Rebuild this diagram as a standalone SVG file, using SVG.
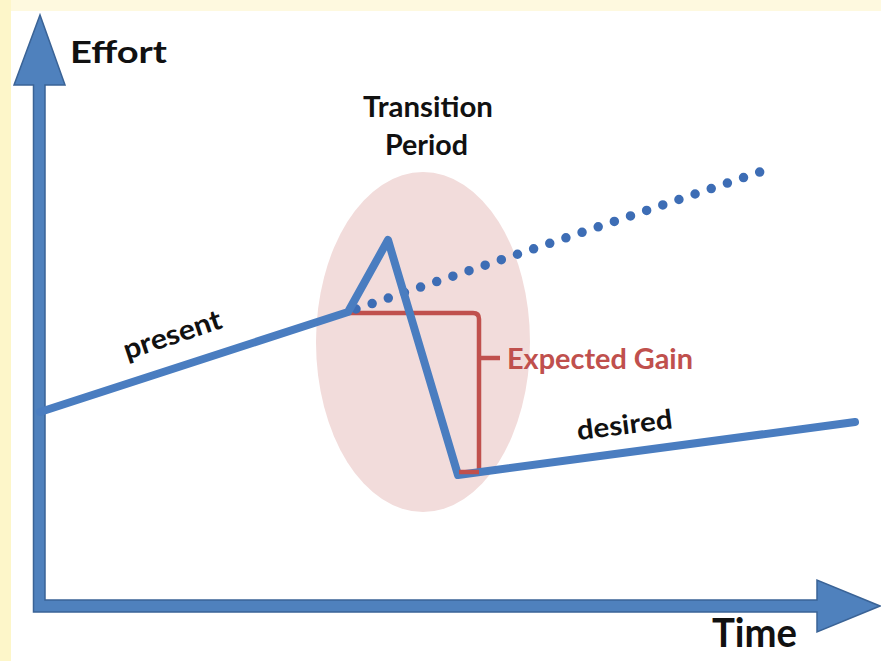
<svg xmlns="http://www.w3.org/2000/svg" width="881" height="661" viewBox="0 0 881 661">
  <style>
    .lbl { font-family: Lato, "Open Sans", "Liberation Sans", sans-serif; font-weight: bold; fill: #111; }
    .red { fill: #C0504D; }
    .blue { fill: none; stroke: #4A7DC0; stroke-width: 8; stroke-linejoin: round; stroke-linecap: round; }
    .redline { fill: none; stroke: #C0504D; stroke-width: 4.5; stroke-linejoin: round; }
  </style>
  <rect x="0" y="0" width="881" height="661" fill="#FFFFFF"/>
  <rect x="0" y="0" width="881" height="11" fill="#FEF9DF"/>
  <rect x="0" y="0" width="11" height="661" fill="#FDF6C9"/>

  <g id="transition-ellipse">
    <ellipse cx="423" cy="342" rx="107" ry="170" fill="#F2DCDB"/>
  </g>

  <g id="axes">
    <path d="M33.5,85 L14,85 L40,15 L65,85 L45,85 L45,600 L817,600 L817,580 L880,606 L817,632 L817,612 L33.5,612 Z" fill="#4F81BD" stroke="#3A6396" stroke-width="1.5" stroke-linejoin="miter"/>
  </g>

  <g id="connectors">
    <path id="expected-gain-bracket" class="redline" d="M348,313 H473 Q479,313 479,319 V471"/>
    <path class="redline" d="M479,358 H500" stroke-width="5"/>
    <path id="dotted-projection" d="M356,309 L760,172" fill="none" stroke="#3D6DB5" stroke-width="9.5" stroke-linecap="round" stroke-dasharray="0 17.05"/>
    <polyline id="effort-curve" class="blue" points="40,412 348,312 388,240 458,475 855,422"/>
    <path class="redline" d="M459,472 H479"/>
  </g>

  <g id="label-effort"><text class="lbl" x="70" y="63" font-size="31" textLength="97" lengthAdjust="spacingAndGlyphs">Effort</text></g>
  <g id="label-time"><text class="lbl" x="712" y="647" font-size="40" textLength="85" lengthAdjust="spacingAndGlyphs">Time</text></g>
  <g id="label-transition">
    <text class="lbl" x="363" y="117" font-size="28" textLength="130" lengthAdjust="spacingAndGlyphs">Transition</text>
    <text class="lbl" x="385" y="155" font-size="28" textLength="83" lengthAdjust="spacingAndGlyphs">Period</text>
  </g>
  <g id="label-present"><text class="lbl" x="0" y="0" font-size="28" textLength="102" lengthAdjust="spacingAndGlyphs" transform="translate(127,360) rotate(-18.5)">present</text></g>
  <g id="label-desired"><text class="lbl" x="0" y="0" font-size="27" textLength="96" lengthAdjust="spacingAndGlyphs" transform="translate(578,440) rotate(-7)">desired</text></g>
  <g id="label-expected-gain"><text class="lbl red" x="507" y="369" font-size="29" textLength="186" lengthAdjust="spacingAndGlyphs">Expected Gain</text></g>
</svg>
